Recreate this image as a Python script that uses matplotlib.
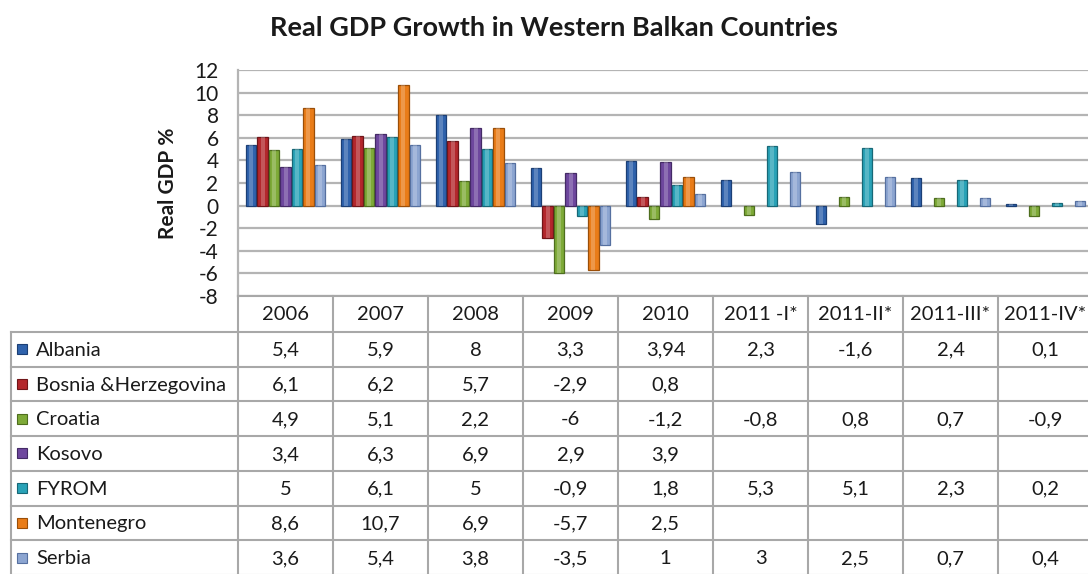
import numpy as np
import matplotlib
matplotlib.use("Agg")
import matplotlib.pyplot as plt
from matplotlib.transforms import blended_transform_factory
from matplotlib.patches import Rectangle

plt.rcParams['font.family'] = ['Lato', 'DejaVu Sans']
plt.rcParams['axes.unicode_minus'] = False

periods = ["2006", "2007", "2008", "2009", "2010",
           "2011 -I*", "2011-II*", "2011-III*", "2011-IV*"]
countries = ["Albania", "Bosnia &Herzegovina", "Croatia", "Kosovo",
             "FYROM", "Montenegro", "Serbia"]
nan = np.nan
albania    = [5.4, 5.9, 8, 3.3, 3.94, 2.3, -1.6, 2.4, 0.1]
bosnia     = [6.1, 6.2, 5.7, -2.9, 0.8, nan, nan, nan, nan]
croatia    = [4.9, 5.1, 2.2, -6, -1.2, -0.8, 0.8, 0.7, -0.9]
kosovo     = [3.4, 6.3, 6.9, 2.9, 3.9, nan, nan, nan, nan]
fyrom      = [5, 6.1, 5, -0.9, 1.8, 5.3, 5.1, 2.3, 0.2]
montenegro = [8.6, 10.7, 6.9, -5.7, 2.5, nan, nan, nan, nan]
serbia     = [3.6, 5.4, 3.8, -3.5, 1, 3, 2.5, 0.7, 0.4]
series = [albania, bosnia, croatia, kosovo, fyrom, montenegro, serbia]

colors = ["#2F62AC", "#B3272C", "#7EAA38", "#6E479E", "#29A2B7", "#E97C18", "#8CA5D1"]
edges  = ["#1C3F75", "#701519", "#4E6E1E", "#442A66", "#176877", "#9A4E08", "#5670A0"]

W, H = 1088, 574
fig = plt.figure(figsize=(W / 100, H / 100), dpi=100, facecolor="white")

# plot area: y=12 at 70px, y=-8 at 296px, 95px per period column
ax = fig.add_axes([238 / W, 1 - 296 / H, 9 * 95 / W, (296 - 70) / H])
ax.set_xlim(-0.5, len(periods) - 0.5)
ax.set_ylim(-8, 12)
ax.set_yticks(range(-8, 13, 2))
ax.set_xticks([])
ax.yaxis.grid(True, color="#B4B4B4", linewidth=1.6)
ax.set_axisbelow(True)
for s in ["top", "right", "bottom"]:
    ax.spines[s].set_visible(False)
ax.spines["left"].set_color("#B4B4B4")
ax.spines["left"].set_linewidth(1.6)
ax.tick_params(axis="y", length=0, pad=14, labelsize=15, labelcolor="#1a1a1a")
ax.set_ylabel("Real GDP %", fontsize=15, fontweight="bold", labelpad=12,
              color="#1a1a1a")

x = np.arange(len(periods))
slot = 80 / 95 / 7
for j, vals in enumerate(series):
    pos = x + (j - 3) * slot
    v = np.array(vals, dtype=float)
    ok = ~np.isnan(v)
    ax.bar(pos[ok], v[ok], width=slot * 0.92, color=colors[j],
           edgecolor=edges[j], linewidth=0.9, zorder=3)
    # lighter middle stripe for the rounded look
    ax.bar(pos[ok], v[ok], width=slot * 0.35, color="white", alpha=0.22,
           linewidth=0, zorder=4)

fig.text(554 / W, 1 - 28 / H, "Real GDP Growth in Western Balkan Countries",
         ha="center", va="center", fontsize=19.5, fontweight="bold", color="#1a1a1a")

# data table below the plot area
tab = fig.add_axes([0, 0, 1, 1], facecolor="none")
tab.set_xlim(0, W)
tab.set_ylim(H, 0)
tab.axis("off")
tr = blended_transform_factory(ax.transData, tab.transData)

line_c = "#A8A8A8"
head_top, head_bot, row_h = 296, 332, 34.7
left_edge = 11
xr = len(periods) - 0.5
fs = 14.5

# column lines
for i in range(len(periods) + 1):
    tab.plot([i - 0.5, i - 0.5], [head_top, H], color=line_c, lw=1.5, transform=tr)
tab.plot([left_edge, left_edge], [head_bot, H], color=line_c, lw=1.5)
# row lines
tab.plot([-0.5, xr], [head_top, head_top], color=line_c, lw=1.5, transform=tr)
for r in range(len(countries) + 1):
    yy = head_bot + r * row_h
    tab.plot([left_edge, 238], [yy, yy], color=line_c, lw=1.5)
    tab.plot([-0.5, xr], [yy, yy], color=line_c, lw=1.5, transform=tr)

for i, p in enumerate(periods):
    tab.text(i, (head_top + head_bot) / 2 + 1, p, ha="center", va="center",
             fontsize=fs, color="#1a1a1a", transform=tr)

for r, (name, vals) in enumerate(zip(countries, series)):
    yc = head_bot + (r + 0.5) * row_h
    tab.add_patch(Rectangle((17, yc - 5), 10, 10, facecolor=colors[r],
                            edgecolor=edges[r], linewidth=0.8))
    tab.text(36, yc + 1, name, ha="left", va="center", fontsize=fs, color="#1a1a1a")
    for i, v in enumerate(vals):
        if np.isnan(v):
            continue
        tab.text(i, yc + 1, f"{v:g}".replace(".", ","), ha="center", va="center",
                 fontsize=fs, color="#1a1a1a", transform=tr)

fig.savefig("out.png", dpi=100, facecolor="white")
